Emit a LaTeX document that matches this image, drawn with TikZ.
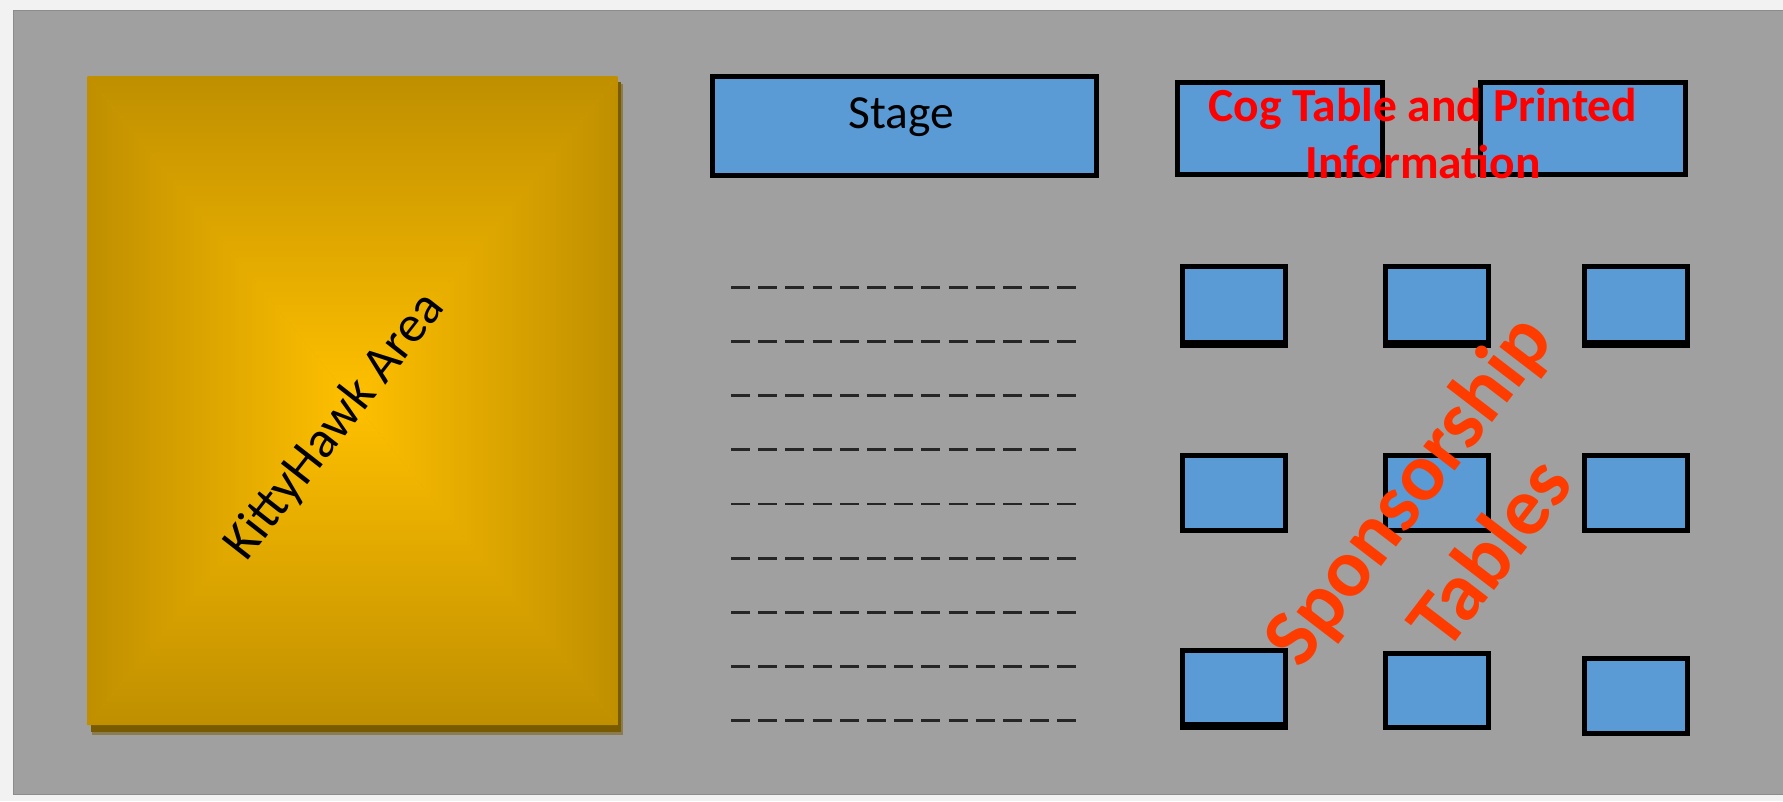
\documentclass[tikz,border=0pt]{standalone}
\usepackage{fontspec}
\setmainfont{Carlito}
\definecolor{pagebg}{RGB}{242,242,242}
\definecolor{floorgray}{RGB}{160,160,160}
\definecolor{flooredge}{RGB}{140,140,140}
\definecolor{tableblue}{RGB}{91,155,213}
\definecolor{golddark}{RGB}{191,143,0}
\definecolor{goldmid}{RGB}{220,165,0}
\definecolor{goldlight}{RGB}{255,192,0}
\definecolor{goldshadow}{RGB}{120,90,0}
\definecolor{labelred}{RGB}{255,0,0}
\definecolor{sponsorred}{RGB}{255,60,0}
\begin{document}
\begin{tikzpicture}[x=1pt,y=-1pt,
  tablebox/.style={draw=black, line width=5pt, fill=tableblue, inner sep=0pt},
  seatrow/.style={draw=black!85, line width=2.7pt, dash pattern=on 19pt off 8.2pt}
]
\useasboundingbox (0,0) rectangle (1783,801);
% page and floor
\fill[pagebg] (0,0) rectangle (1783,801);
\fill[floorgray] (13,10) rectangle (1783,794);
\draw[flooredge, line width=1pt] (1783,10) -- (13,10) -- (13,794) -- (1783,794);

% KittyHawk area: raised gold panel with a drop shadow
\fill[goldshadow, opacity=0.5] (92,84) rectangle (623,735);
\fill[goldshadow] (91,82) rectangle (621,732);
\coordinate (gTL) at (87.6,76);
\coordinate (gTR) at (617.4,76);
\coordinate (gBL) at (87.6,725);
\coordinate (gBR) at (617.4,725);
\coordinate (gC) at (352.5,400.5);
\fill[goldmid] (gTL) rectangle (gBR);
\begin{scope}
  \clip (gTL) -- (gTR) -- (gC) -- cycle;
  \shade[top color=golddark, bottom color=goldlight] (gTL) rectangle (617.4,400.5);
\end{scope}
\begin{scope}
  \clip (gBL) -- (gBR) -- (gC) -- cycle;
  \shade[top color=goldlight, bottom color=golddark] (87.6,400.5) rectangle (gBR);
\end{scope}
\begin{scope}
  \clip (gTL) -- (gBL) -- (gC) -- cycle;
  \shade[left color=golddark, right color=goldlight] (gTL) rectangle (352.5,725);
\end{scope}
\begin{scope}
  \clip (gTR) -- (gBR) -- (gC) -- cycle;
  \shade[left color=goldlight, right color=golddark] (352.5,76) rectangle (gBR);
\end{scope}
\node[rotate=52, anchor=base, inner sep=0pt, font=\fontsize{52}{62}\selectfont] (kittylabel) at (346,435) {KittyHawk Area};

% stage
\node[tablebox, minimum width=384pt, minimum height=99pt] (stage) at (904.5,126) {};
\node[anchor=base, inner sep=0pt, font=\fontsize{47.5}{57}\selectfont] (stagelabel) at (901,128.5) {Stage};

% seating rows
\foreach \k in {0,...,8} {
  \coordinate (rowL\k) at (731, 287.3+54.18*\k);
  \coordinate (rowR\k) at (1076.4, 287.3+54.18*\k);
  \draw[seatrow] (rowL\k) -- (rowR\k);
}

% cog tables
\node[tablebox, minimum width=205pt, minimum height=92pt] (cog1) at (1280,128.5) {};
\node[tablebox, minimum width=205pt, minimum height=92pt] (cog2) at (1583,128.5) {};

% sponsorship tables
\node[tablebox, minimum width=103pt, minimum height=76pt] (s11) at (1234,304.5) {};
\node[tablebox, minimum width=103pt, minimum height=76pt] (s12) at (1436.5,304.5) {};
\node[tablebox, minimum width=103pt, minimum height=76pt] (s13) at (1636,304.5) {};
\node[tablebox, minimum width=103pt, minimum height=75pt] (s21) at (1234,493) {};
\node[tablebox, minimum width=103pt, minimum height=75pt] (s22) at (1436.5,493) {};
\node[tablebox, minimum width=103pt, minimum height=75pt] (s23) at (1636,493) {};
\node[tablebox, minimum width=103pt, minimum height=74pt] (s31) at (1234,687.5) {};
\node[tablebox, minimum width=103pt, minimum height=74pt] (s32) at (1436.5,690.5) {};
\node[tablebox, minimum width=103pt, minimum height=75pt] (s33) at (1636,696) {};
% heavier bottom edges on some tables
\foreach \t in {s11,s12,s13,s31}
  \fill[black] (\t.south west) rectangle ([yshift=-3pt]\t.south east);

% labels
\node[anchor=base, align=center, text=labelred, inner sep=0pt,
      font=\bfseries\fontsize{47.5}{56.5}\selectfont] (coglabel) at (1423,178.2)
      {Cog Table and Printed\\Information};
\node[rotate=52.5, align=center, text=sponsorred, inner sep=0pt,
      font=\bfseries\fontsize{82}{104}\selectfont] (sponsorlabel) at (1447,520)
      {Sponsorship\\Tables};
\end{tikzpicture}
\end{document}
